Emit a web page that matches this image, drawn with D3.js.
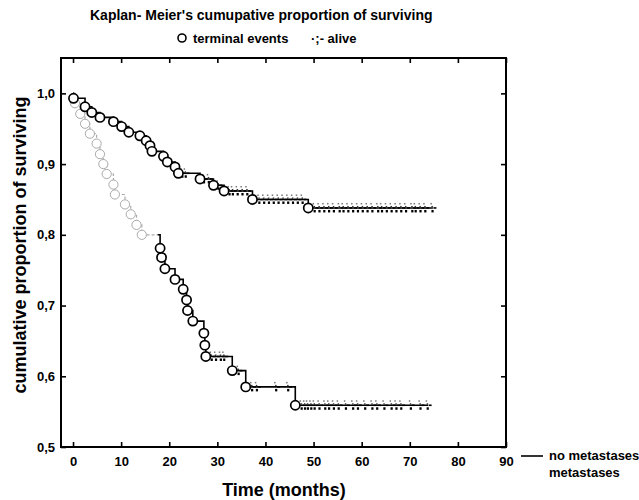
<!doctype html>
<html>
<head>
  <meta charset="utf-8">
  <script src="https://d3js.org/d3.v7.min.js"></script>
  <style>
    body { margin: 0; background: #fff; }
    text { font-family: "Liberation Sans", Arial, sans-serif; }
  </style>
</head>
<body>
<script>

  // no metastases: event times (months) and survival after each event
  var noMetTimes = [0.1, 2.5, 3.9, 5.6, 8.4, 10.1, 11.6, 13.9, 15.2, 16.0, 16.4, 18.8, 19.6, 21.2, 21.9, 26.4, 29.2, 31.4, 37.3, 48.9];
  var noMetSurv  = [0.993, 0.981, 0.973, 0.966, 0.960, 0.953, 0.945, 0.940, 0.933, 0.926, 0.918, 0.911, 0.903, 0.896, 0.887, 0.879, 0.870, 0.862, 0.850, 0.838];
  var noMetCens  = [22.5, 23.2, 27, 28, 30, 32.3, 33, 34, 35, 36, 38.5, 39.5, 40.5, 41.5, 42.5, 43.5, 44.5, 45.5, 46.5, 47.5, 50, 51, 52, 53, 54, 55.2, 56, 57, 58, 59, 60, 61, 62, 63.2, 64, 65, 66, 67, 68, 69, 70.3, 71, 72, 73, 74.5];
  var noMetEnd = 74.8;

  // metastases
  var metTimes = [0.4, 1.5, 2.5, 3.5, 4.9, 5.6, 6.3, 7.0, 8.4, 8.7, 10.8, 12.0, 13.2, 14.3, 18.1, 18.4, 19.1, 21.2, 22.9, 23.6, 23.8, 24.9, 27.2, 27.4, 27.6, 33.1, 35.9, 46.2];
  var metSurv  = [0.986, 0.971, 0.957, 0.943, 0.929, 0.914, 0.900, 0.886, 0.871, 0.857, 0.843, 0.829, 0.814, 0.800, 0.781, 0.768, 0.752, 0.737, 0.723, 0.708, 0.693, 0.678, 0.661, 0.644, 0.628, 0.608, 0.585, 0.559];
  var metCens  = [28.6, 29.5, 30.5, 31.2, 34.2, 37, 38, 42, 44.5, 47.3, 48, 48.6, 49.3, 50, 51, 52.2, 53, 54, 55, 56.5, 58, 59, 60.5, 62, 63, 64.5, 66, 67, 68, 70, 72, 73.5];
  var metEnd = 73.8;

  var xTicks = [0, 10, 20, 30, 40, 50, 60, 70, 80, 90];
  var yTicks = [0.5, 0.6, 0.7, 0.8, 0.9, 1.0];

  var svg = d3.select("body").append("svg")
      .attr("width", 639)
      .attr("height", 500);

  var x = d3.scaleLinear().domain([-2.5, 90]).range([61, 506]);
  var y = d3.scaleLinear().domain([0.5, 1.05]).range([447, 58]);

  var fmt = function (d) { return d3.format(".1f")(d).replace(".", ","); };

  // axes (ticks pointing inward)
  svg.append("g")
      .attr("transform", "translate(0,447)")
      .call(d3.axisBottom(x).tickValues(xTicks).tickSizeInner(-5).tickSizeOuter(0).tickPadding(10))
      .call(function (g) { g.select(".domain").remove(); })
      .selectAll("text").attr("font-size", 13).attr("font-weight", "bold").attr("fill", "#000");

  svg.append("g")
      .attr("transform", "translate(61,0)")
      .call(d3.axisLeft(y).tickValues(yTicks).tickFormat(fmt).tickSizeInner(-5).tickSizeOuter(0).tickPadding(6))
      .call(function (g) { g.select(".domain").remove(); })
      .selectAll("text").attr("font-size", 13).attr("font-weight", "bold").attr("fill", "#000");

  svg.append("g")
      .attr("transform", "translate(0,58)")
      .call(d3.axisTop(x).tickValues(xTicks).tickSizeInner(-5).tickSizeOuter(0).tickFormat(""))
      .call(function (g) { g.select(".domain").remove(); });

  svg.append("g")
      .attr("transform", "translate(506,0)")
      .call(d3.axisRight(y).tickValues(yTicks).tickSizeInner(-5).tickSizeOuter(0).tickFormat(""))
      .call(function (g) { g.select(".domain").remove(); });

  svg.selectAll(".tick line").attr("stroke", "#000").attr("stroke-width", 1.6);

  // frame
  svg.append("rect")
      .attr("x", 61).attr("y", 58)
      .attr("width", 445).attr("height", 389)
      .attr("fill", "none")
      .attr("stroke", "#000")
      .attr("stroke-width", 2);

  // clip for faded early part of metastases curve
  var defs = svg.append("defs");
  defs.append("clipPath").attr("id", "early")
    .append("rect").attr("x", 0).attr("y", 0).attr("width", x(17.6)).attr("height", 500);
  defs.append("clipPath").attr("id", "late")
    .append("rect").attr("x", x(17.6)).attr("y", 0).attr("width", 639).attr("height", 500);

  var line = d3.line()
      .x(function (d) { return x(d[0]); })
      .y(function (d) { return y(d[1]); })
      .curve(d3.curveStepAfter);

  function stepPoints(times, surv, end) {
    var pts = [[0, 1]];
    times.forEach(function (t, i) { pts.push([t, surv[i]]); });
    pts.push([end, surv[surv.length - 1]]);
    return pts;
  }

  function survAt(times, surv, t) {
    var s = 1;
    times.forEach(function (ti, i) { if (ti <= t) s = surv[i]; });
    return s;
  }

  function drawCurve(times, surv, cens, end, faded) {
    var pts = stepPoints(times, surv, end);
    var g = svg.append("g");

    if (faded) {
      g.append("path").attr("d", line(pts))
          .attr("clip-path", "url(#early)")
          .attr("fill", "none").attr("stroke", "#aaa")
          .attr("stroke-width", 1.2).attr("stroke-dasharray", "3,2");
      g.append("path").attr("d", line(pts))
          .attr("clip-path", "url(#late)")
          .attr("fill", "none").attr("stroke", "#000").attr("stroke-width", 1.6);
    } else {
      g.append("path").attr("d", line(pts))
          .attr("fill", "none").attr("stroke", "#000").attr("stroke-width", 1.6);
    }

    // censored marks
    var cg = g.selectAll(".cens")
        .data(cens)
        .enter().append("g")
        .attr("transform", function (d) {
          return "translate(" + x(d) + "," + y(survAt(times, surv, d)) + ")";
        });
    cg.append("rect").attr("x", -1).attr("y", -5).attr("width", 1.5).attr("height", 1.5).attr("fill", "#777");
    cg.append("rect").attr("x", 0).attr("y", -2).attr("width", 1.5).attr("height", 1.5).attr("fill", "#333");
    cg.append("rect").attr("x", 0).attr("y", 2).attr("width", 2.2).attr("height", 2.5).attr("fill", "#000");
    cg.append("rect").attr("x", 2).attr("y", -0.8).attr("width", 3).attr("height", 1.6).attr("fill", "#000");

    // terminal events
    g.selectAll(".ev")
        .data(times)
        .enter().append("circle")
        .attr("cx", function (d) { return x(d); })
        .attr("cy", function (d, i) { return y(surv[i]); })
        .attr("r", 4.6)
        .attr("fill", "#fff")
        .attr("stroke", function (d) { return faded && d < 17.6 ? "#aaa" : "#000"; })
        .attr("stroke-width", function (d) { return faded && d < 17.6 ? 1 : 1.7; });
  }

  drawCurve(metTimes, metSurv, metCens, metEnd, true);
  drawCurve(noMetTimes, noMetSurv, noMetCens, noMetEnd, false);

  // titles
  svg.append("text")
      .attr("x", 90).attr("y", 20)
      .attr("font-size", 14).attr("font-weight", "bold")
      .text("Kaplan- Meier's cumupative proportion of surviving");

  svg.append("circle")
      .attr("cx", 182).attr("cy", 38).attr("r", 4)
      .attr("fill", "#fff").attr("stroke", "#000").attr("stroke-width", 1.6);
  svg.append("text")
      .attr("x", 193).attr("y", 42.5)
      .attr("font-size", 13).attr("font-weight", "bold")
      .text("terminal events");
  svg.append("text")
      .attr("x", 311).attr("y", 42.5)
      .attr("font-size", 13).attr("font-weight", "bold")
      .text("·;-  alive");

  svg.append("text")
      .attr("x", 284).attr("y", 496)
      .attr("text-anchor", "middle")
      .attr("font-size", 18).attr("font-weight", "bold")
      .text("Time (months)");

  svg.append("text")
      .attr("transform", "translate(26,245) rotate(-90)")
      .attr("text-anchor", "middle")
      .attr("font-size", 18).attr("font-weight", "bold")
      .text("cumulative proportion of surviving");

  // series legend
  svg.append("line")
      .attr("x1", 521).attr("x2", 543)
      .attr("y1", 456).attr("y2", 456)
      .attr("stroke", "#000").attr("stroke-width", 1.6);
  svg.append("text")
      .attr("x", 549).attr("y", 460)
      .attr("font-size", 13).attr("font-weight", "bold")
      .text("no metastases");
  svg.append("text")
      .attr("x", 549).attr("y", 477)
      .attr("font-size", 13).attr("font-weight", "bold")
      .text("metastases");

</script>
</body>
</html>
